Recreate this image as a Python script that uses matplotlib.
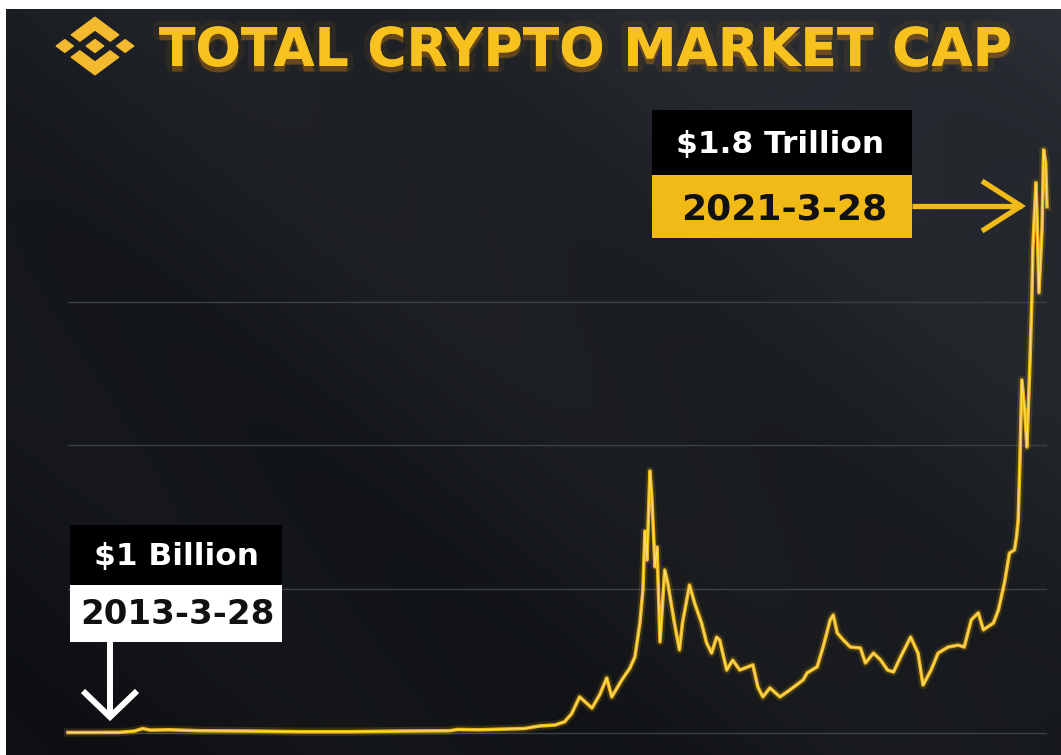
import numpy as np
import matplotlib
matplotlib.use("Agg")
import matplotlib.pyplot as plt
import matplotlib.patheffects as pe
from matplotlib.patches import Polygon, Rectangle
from matplotlib.lines import Line2D
import pandas as pd

# ---------------- data ----------------
dates = [
    "2013-03-28", "2013-08-28", "2013-10-13", "2013-11-06", "2013-11-27", "2014-01-26",
    "2014-04-25", "2014-09-22", "2015-02-17", "2015-07-16", "2015-12-13", "2016-05-10",
    "2016-06-03", "2016-08-08", "2016-12-20", "2017-02-03", "2017-03-21", "2017-04-18",
    "2017-05-09", "2017-06-02", "2017-06-21", "2017-07-09", "2017-08-01", "2017-08-22",
    "2017-09-06", "2017-10-06", "2017-10-30", "2017-11-14", "2017-11-29", "2017-12-08",
    "2017-12-14", "2017-12-20", "2017-12-29", "2018-01-04", "2018-01-13", "2018-01-19",
    "2018-01-28", "2018-02-11", "2018-02-20", "2018-03-12", "2018-03-27", "2018-04-05",
    "2018-04-26", "2018-05-11", "2018-06-01", "2018-06-16", "2018-07-01", "2018-07-16",
    "2018-07-25", "2018-08-15", "2018-09-02", "2018-09-23", "2018-11-01", "2018-11-16",
    "2018-12-01", "2018-12-22", "2019-01-21", "2019-02-20", "2019-03-31", "2019-04-12",
    "2019-05-12", "2019-05-30", "2019-06-20", "2019-06-29", "2019-07-11", "2019-07-29",
    "2019-08-19", "2019-09-18", "2019-10-03", "2019-10-27", "2019-11-17", "2019-12-08",
    "2019-12-26", "2020-01-16", "2020-02-15", "2020-03-08", "2020-03-23", "2020-04-16",
    "2020-05-07", "2020-06-06", "2020-07-06", "2020-07-24", "2020-08-14", "2020-09-04",
    "2020-09-19", "2020-10-19", "2020-11-03", "2020-11-21", "2020-12-06", "2020-12-21",
    "2020-12-27", "2021-01-01", "2021-01-06", "2021-01-12", "2021-01-21", "2021-01-27",
    "2021-02-05", "2021-02-11", "2021-02-14", "2021-02-23", "2021-02-26", "2021-03-04",
    "2021-03-13", "2021-03-18", "2021-03-24", "2021-03-28",
]
market_cap_bn = [
    1.5, 2, 6, 14, 9, 10,
    7, 6, 4, 4, 6, 7,
    11, 10, 14, 22, 25, 35,
    60, 113, 95, 78, 120, 172,
    113, 166, 203, 238, 344, 448,
    632, 541, 820, 730, 520, 582,
    285, 510, 470, 344, 260, 344,
    463, 407, 344, 282, 250, 300,
    291, 197, 228, 197, 213, 144,
    113, 141, 113, 135, 166, 188,
    207, 270, 354, 369, 313, 291,
    269, 266, 219, 250, 229, 197,
    191, 238, 300, 250, 150, 197,
    250, 269, 275, 269, 354, 376,
    323, 344, 385, 470, 563, 573,
    614, 667, 845, 1105, 1001, 895,
    1157, 1366, 1522, 1722, 1628, 1378,
    1572, 1825, 1784, 1647,
]
grid_values_bn = [0, 450, 900, 1350]
title_text = "TOTAL CRYPTO MARKET CAP"
start_value_label = "$1 Billion"
start_date_label = "2013-3-28"
end_value_label = "$1.8 Trillion"
end_date_label = "2021-3-28"

# ---------------- figure ----------------
W, H = 1061, 755
fig = plt.figure(figsize=(W / 100, H / 100), dpi=100, facecolor="white")

def fx(x):
    return x / W

def fy(y):
    return 1 - y / H

# background gradient
bg = fig.add_axes([fx(6), 0, 1 - fx(6), fy(9)])
h, w = 746, 1055
yy, xx = np.mgrid[0:h, 0:w]
u = xx / w
v = 1 - yy / h
t = np.clip(0.45 * u + 0.55 * v, 0, 1)
dark = np.array([16, 18, 21], dtype=float)
light = np.array([44, 48, 54], dtype=float)
img = dark + (light - dark) * (t[..., None] ** 1.6)
s = (xx - yy) / 520.0
img += (2.5 * np.sin(2 * np.pi * s))[..., None]
img = np.clip(img, 0, 255) / 255.0
bg.imshow(img, aspect="auto", extent=[0, 1, 0, 1], interpolation="bilinear")
bg.set_axis_off()

# data axes
ax = fig.add_axes([fx(68), fy(745), fx(1047) - fx(68), fy(100) - fy(745)])
ax.patch.set_alpha(0)
x = pd.to_datetime(dates)
y = np.array(market_cap_bn)
ax.set_xlim(pd.Timestamp("2013-03-28"), pd.Timestamp("2021-03-28"))
ax.set_ylim(-37.6, 1981)
for g in grid_values_bn:
    ax.axhline(g, color="#3b4046", lw=1.0, zorder=1)
ax.plot(x, y, color="#F0B90B", lw=6, alpha=0.15, zorder=2, clip_on=False,
        solid_joinstyle="round")
ax.plot(x, y, color="#EDB212", lw=2.6, zorder=3, clip_on=False, solid_joinstyle="round")
ax.plot(x, y, color="#FFE27A", lw=0.8, zorder=4, clip_on=False, solid_joinstyle="round")
for sp in ax.spines.values():
    sp.set_visible(False)
ax.set_xticks([])
ax.set_yticks([])

# overlay in pixel coordinates
ov = fig.add_axes([0, 0, 1, 1])
ov.set_xlim(0, W)
ov.set_ylim(H, 0)
ov.set_axis_off()
ov.patch.set_alpha(0)

# Binance logo
logo_pts = [
    [(38.73, 53.2), (63.3, 28.63), (87.89, 53.22), (102.19, 38.92), (63.3, 0), (24.42, 38.9)],
    [(0, 63.31), (14.3, 49.01), (28.6, 63.31), (14.3, 77.61)],
    [(38.73, 73.41), (63.3, 97.99), (87.88, 73.39), (102.19, 87.7), (63.3, 126.61), (24.41, 87.73)],
    [(98.01, 63.31), (112.31, 49.01), (126.61, 63.31), (112.31, 77.61)],
    [(77.83, 63.3), (63.3, 48.77), (48.77, 63.3), (63.3, 77.84)],
]
lx0, lx1, ly0, ly1 = 56, 134, 17, 75
for poly in logo_pts:
    pts = [(lx0 + px / 126.61 * (lx1 - lx0), ly0 + py / 126.61 * (ly1 - ly0)) for px, py in poly]
    ov.add_patch(Polygon(pts, closed=True, facecolor="#F3BA2F", edgecolor="#F3BA2F",
                         lw=0.8, zorder=5))

# title
ov.text(159, 66, title_text, ha="left", va="baseline", fontsize=38.5,
        fontweight="bold", family="DejaVu Sans", color="#F7C11E", zorder=6,
        path_effects=[pe.SimplePatchShadow(offset=(0, -4), shadow_rgbFace=(0.95, 0.55, 0.05), alpha=0.30),
                      pe.Stroke(linewidth=9, foreground=(0.95, 0.6, 0.05, 0.07)),
                      pe.Normal()])

# end annotation
ov.add_patch(Rectangle((652, 110), 260, 65, facecolor="black", edgecolor="none", zorder=5))
ov.add_patch(Rectangle((652, 175), 260, 63, facecolor="#F2BA17", edgecolor="none", zorder=5))
ov.text(780, 145, end_value_label, ha="center", va="center", fontsize=22.5,
        fontweight="bold", color="white", zorder=6)
ov.text(784, 209, end_date_label, ha="center", va="center", fontsize=26,
        fontweight="bold", color="#111111", zorder=6)
ov.add_line(Line2D([912, 1022], [206, 206], color="#F2BA17", lw=3.8, solid_capstyle="butt", zorder=6))
ov.add_line(Line2D([982, 1021, 982], [181, 206, 231], color="#F2BA17", lw=3.8,
                   solid_joinstyle="miter", solid_capstyle="butt", zorder=6))

# start annotation
ov.add_patch(Rectangle((70, 525), 212, 60, facecolor="black", edgecolor="none", zorder=5))
ov.add_patch(Rectangle((70, 585), 212, 57, facecolor="white", edgecolor="none", zorder=5))
ov.text(176, 557, start_value_label, ha="center", va="center", fontsize=22.5,
        fontweight="bold", color="white", zorder=6)
ov.text(177, 615, start_date_label, ha="center", va="center", fontsize=24.5,
        fontweight="bold", color="#111111", zorder=6)
ov.add_line(Line2D([110, 110], [642, 714], color="white", lw=4.3, solid_capstyle="butt", zorder=6))
ov.add_line(Line2D([83, 110, 137], [691, 717, 691], color="white", lw=4.3,
                   solid_joinstyle="miter", solid_capstyle="butt", zorder=6))

fig.savefig("out.png", dpi=100, facecolor="white")
